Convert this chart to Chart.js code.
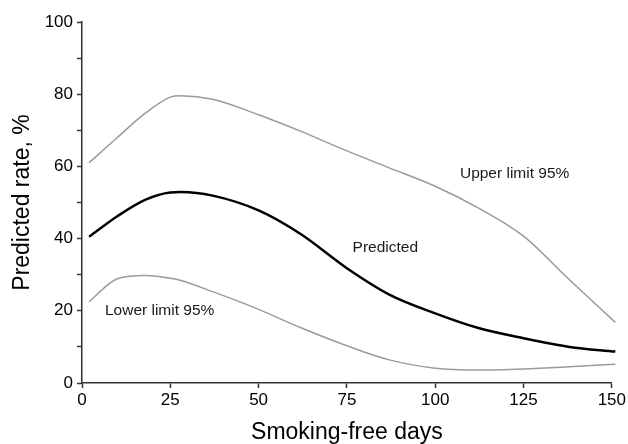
<!DOCTYPE html>
<html>
<head>
<meta charset="utf-8">
<script src="https://cdn.jsdelivr.net/npm/chart.js"></script>
<style>
html, body { margin:0; padding:0; background:#fff }
#wrap { width:628px; height:444px }
</style>
</head>
<body>
<div id="wrap"><canvas id="chart" width="628" height="444"></canvas></div>
<script>
// smoking-free days sampled along the curves
const days      = [2, 10, 18, 25, 28, 37, 50, 62, 75, 87, 100, 112, 125, 138, 151];
const upper     = [61.0, 68.0, 74.8, 79.2, 79.6, 78.6, 74.3, 69.7, 64.3, 59.6, 54.5, 48.6, 40.7, 28.6, 16.8];
const predicted = [40.5, 46.2, 50.8, 52.8, 52.9, 51.9, 47.8, 41.2, 31.8, 24.5, 19.3, 15.3, 12.4, 10.0, 8.7];
const lower     = [22.5, 28.9, 29.8, 29.0, 28.4, 25.3, 20.4, 15.3, 10.3, 6.4, 4.1, 3.6, 3.9, 4.5, 5.2];

const xTicks = [0, 25, 50, 75, 100, 125, 150];
const yLabels = [0, 20, 40, 60, 80, 100];

// text labels placed next to the curves (data coords)
const notes = [
  { text: "Upper limit 95%", x: 107, y: 58.1 },
  { text: "Predicted",       x: 76.6, y: 37.4 },
  { text: "Lower limit 95%", x: 6.5,  y: 19.9 }
];

const FONT = "'Liberation Sans', Arial, sans-serif";

function pts(vals) {
  return days.map((d, i) => ({ x: d, y: vals[i] }));
}

const notePlugin = {
  id: "notes",
  afterDatasetsDraw(chart) {
    const { ctx, scales } = chart;
    ctx.save();
    ctx.font = "15.5px " + FONT;
    ctx.fillStyle = "#1a1a1a";
    ctx.textAlign = "left";
    ctx.textBaseline = "middle";
    notes.forEach(n => {
      ctx.fillText(n.text, scales.x.getPixelForValue(n.x), scales.y.getPixelForValue(n.y));
    });
    ctx.restore();
  }
};

new Chart(document.getElementById("chart"), {
  type: "line",
  data: {
    datasets: [
      { label: "Upper limit 95%", data: pts(upper), borderColor: "#9a9a9a", borderWidth: 1.5 },
      { label: "Predicted", data: pts(predicted), borderColor: "#000", borderWidth: 2.5 },
      { label: "Lower limit 95%", data: pts(lower), borderColor: "#9a9a9a", borderWidth: 1.5 }
    ]
  },
  options: {
    responsive: false,
    animation: false,
    layout: { padding: { top: 22, right: 15, bottom: 0, left: 0 } },
    elements: {
      point: { radius: 0 },
      line: { cubicInterpolationMode: "monotone", fill: false }
    },
    datasets: { line: { clip: false } },
    plugins: { legend: { display: false }, tooltip: { enabled: false } },
    scales: {
      x: {
        type: "linear",
        min: 0, max: 150,
        afterBuildTicks: s => { s.ticks = xTicks.map(v => ({ value: v })); },
        afterFit: s => { s.height = 61; },
        border: { color: "#333", width: 1.5 },
        grid: { drawOnChartArea: false, drawTicks: true, tickLength: 5, tickColor: "#333", tickWidth: 1.5 },
        ticks: { color: "#000", font: { family: FONT, size: 17 }, padding: 2, maxRotation: 0 },
        title: { display: true, text: "Smoking-free days", color: "#000",
                 font: { family: FONT, size: 23, lineHeight: 1 }, padding: { top: 0, bottom: 0 } }
      },
      y: {
        min: 0, max: 100,
        ticks: {
          stepSize: 10,
          color: "#000", font: { family: FONT, size: 17 }, padding: 4,
          callback: v => yLabels.includes(v) ? v : ""
        },
        afterFit: s => { s.width = 82; },
        border: { color: "#333", width: 1.5 },
        grid: { drawOnChartArea: false, drawTicks: true, tickLength: 5, tickColor: "#333", tickWidth: 1.5 },
        title: { display: true, text: "Predicted rate, %", color: "#000",
                 font: { family: FONT, size: 23, lineHeight: 1 }, padding: { top: 11, bottom: 0 } }
      }
    }
  },
  plugins: [notePlugin]
});
</script>
</body>
</html>
